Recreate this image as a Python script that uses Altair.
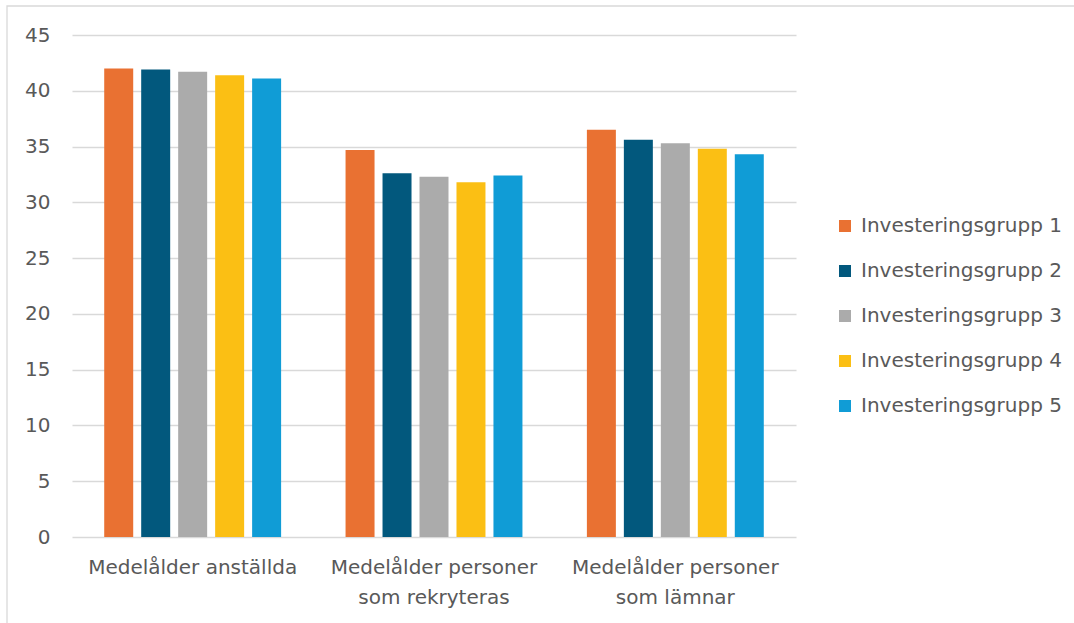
import altair as alt
import pandas as pd

# Mean age per category and investment group
categories = [
    "Medelålder anställda",
    "Medelålder personer som rekryteras",
    "Medelålder personer som lämnar",
]
groups = [
    "Investeringsgrupp 1",
    "Investeringsgrupp 2",
    "Investeringsgrupp 3",
    "Investeringsgrupp 4",
    "Investeringsgrupp 5",
]
grupp1 = [42.0, 34.7, 36.5]
grupp2 = [41.9, 32.6, 35.6]
grupp3 = [41.7, 32.3, 35.3]
grupp4 = [41.4, 31.8, 34.8]
grupp5 = [41.1, 32.4, 34.3]
colors = ["#E97132", "#02587D", "#ABABAB", "#FBBF14", "#109CD6"]
y_ticks = [0, 5, 10, 15, 20, 25, 30, 35, 40, 45]

series = [grupp1, grupp2, grupp3, grupp4, grupp5]
rows = []
for g, vals in zip(groups, series):
    for c, v in zip(categories, vals):
        rows.append({"kategori": c, "grupp": g, "värde": v})
df = pd.DataFrame(rows)

FONT = "DejaVu Sans"
FS = 20
TEXT = "#595959"
GRID = "#d9d9d9"

bars = alt.Chart(df).mark_bar().encode(
    x=alt.X(
        "kategori:N",
        sort=categories,
        title=None,
        scale=alt.Scale(paddingInner=0.267, paddingOuter=0.1335),
        axis=alt.Axis(
            labelAngle=0,
            labelFont=FONT,
            labelFontSize=FS,
            labelColor=TEXT,
            labelPadding=20,
            labelLineHeight=30,
            labelLimit=400,
            ticks=False,
            domain=False,
            labelExpr="datum.label == 'Medelålder anställda' ? datum.label : split(replace(datum.label, ' som ', '|som '), '|')",
        ),
    ),
    xOffset=alt.XOffset(
        "grupp:N",
        sort=groups,
        scale=alt.Scale(paddingInner=0.216, paddingOuter=0),
    ),
    y=alt.Y(
        "värde:Q",
        title=None,
        scale=alt.Scale(domain=[0, 45], nice=False),
        axis=alt.Axis(
            values=y_ticks,
            labelFont=FONT,
            labelFontSize=FS,
            labelColor=TEXT,
            labelPadding=22,
            ticks=False,
            domain=False,
            gridColor=GRID,
            gridWidth=1.3,
        ),
    ),
    color=alt.Color(
        "grupp:N",
        sort=groups,
        scale=alt.Scale(domain=groups, range=colors),
        legend=alt.Legend(
            title=None,
            orient="none",
            legendX=763,
            legendY=181,
            symbolType="square",
            symbolSize=144,
            symbolStrokeWidth=0,
            labelFont=FONT,
            labelFontSize=FS,
            labelColor=TEXT,
            labelOffset=6,
            rowPadding=25,
            labelLimit=300,
        ),
    ),
)

# Light frame around the whole figure
frame = alt.Chart(alt.Data(values=[{}])).mark_rect(
    fill=None, stroke=GRID, strokeWidth=1.3
).encode(
    x=alt.value(-65), x2=alt.value(1100), y=alt.value(-29), y2=alt.value(700)
)

chart = alt.layer(frame, bars).properties(
    width=724,
    height=502,
    padding={"left": 72, "top": 35, "right": 278, "bottom": 86},
    autosize=alt.AutoSizeParams(type="none"),
    background="white",
).configure_view(stroke=None)

chart.save("out.html", embed_options={"renderer": "svg", "actions": False})
